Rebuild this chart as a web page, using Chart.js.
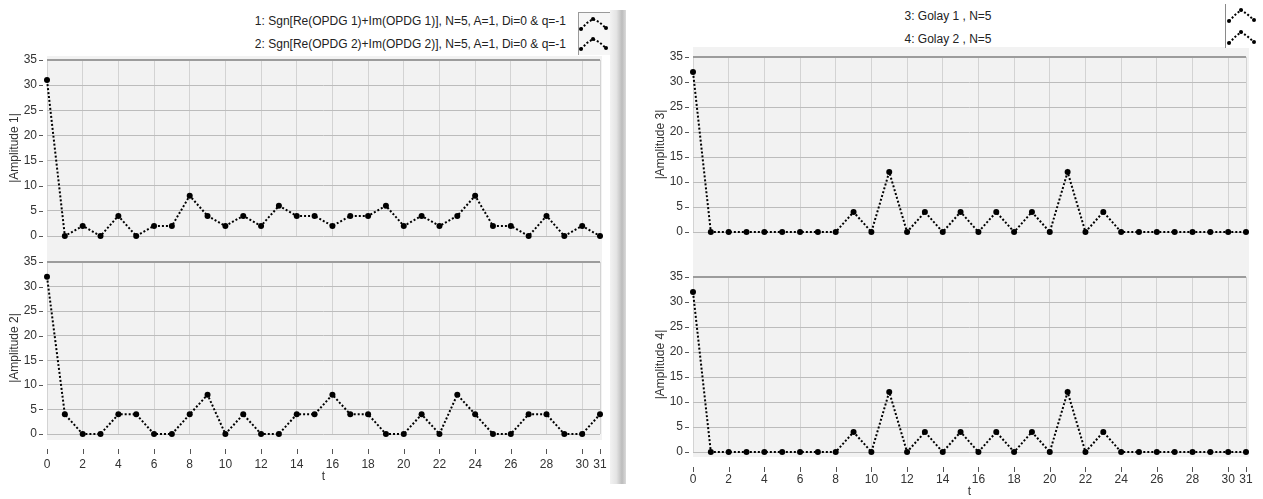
<!DOCTYPE html>
<html>
<head>
<meta charset="utf-8">
<script src="https://cdn.jsdelivr.net/npm/chart.js@4.4.1/dist/chart.umd.min.js"></script>
<style>
  body { margin: 0; width: 1263px; height: 499px; background: #fff; position: relative; overflow: hidden;
         font-family: 'Liberation Sans', Arial, sans-serif; }
  canvas, .abs { position: absolute; }
  .plotbg { background: #f2f2f2; }
  .leg { font-size: 12px; color: #222; white-space: nowrap; }
  .legbox svg { display: block; }
</style>
</head>
<body>
<!-- plot backgrounds -->
<div class="abs plotbg" style="left:47px; top:56px; width:555px; height:384px;"></div>
<div class="abs plotbg" style="left:693px; top:47px; width:556px; height:410px;"></div>

<!-- panel separator -->
<div class="abs" style="left:610px; top:10px; width:16px; height:474px;
     background: linear-gradient(to right, #f2f2f2 0%, #e4e4e4 40%, #bcbcbc 75%, #dadada 100%);"></div>

<!-- legends -->
<div class="abs leg" style="right:697px; top:10px; line-height:23px; text-align:right;">
  1: Sgn[Re(OPDG 1)+Im(OPDG 1)], N=5, A=1, Di=0 &amp; q=-1<br>
  2: Sgn[Re(OPDG 2)+Im(OPDG 2)], N=5, A=1, Di=0 &amp; q=-1
</div>
<div class="abs legbox" style="left:578px; top:12px; width:31px; height:42px; border-top:1px solid #9a9a9a; border-left:1px solid #9a9a9a; background:#f6f6f6;">
  <svg width="30" height="20" style="margin-top:2px"><polyline points="2,14 8,8 14,4 20,7 27,13" fill="none" stroke="#000" stroke-width="2" stroke-dasharray="2 2"/><circle cx="2" cy="14" r="2"/><circle cx="14" cy="4" r="2"/><circle cx="27" cy="13" r="2"/></svg>
  <svg width="30" height="20"><polyline points="2,14 8,8 14,4 20,7 27,13" fill="none" stroke="#000" stroke-width="2" stroke-dasharray="2 2"/><circle cx="2" cy="14" r="2"/><circle cx="14" cy="4" r="2"/><circle cx="27" cy="13" r="2"/></svg>
</div>

<div class="abs leg" style="left:748px; width:400px; top:5px; line-height:23px; text-align:center;">
  3: Golay 1 , N=5<br>
  4: Golay 2 , N=5
</div>
<div class="abs legbox" style="left:1225px; top:4px; width:30px; height:44px; border-left:1px solid #8a8a8a; background:#fff;">
  <svg width="30" height="22" style="margin-top:2px"><polyline points="3,15 9,9 15,4 21,8 28,14" fill="none" stroke="#000" stroke-width="2" stroke-dasharray="2 2"/><circle cx="3" cy="15" r="2"/><circle cx="15" cy="4" r="2"/><circle cx="28" cy="14" r="2"/></svg>
  <svg width="30" height="20"><polyline points="3,15 9,9 15,4 21,8 28,14" fill="none" stroke="#000" stroke-width="2" stroke-dasharray="2 2"/><circle cx="3" cy="15" r="2"/><circle cx="15" cy="4" r="2"/><circle cx="28" cy="14" r="2"/></svg>
</div>

<canvas id="amp1" width="615" height="190" style="left:0; top:50px;"></canvas>
<canvas id="amp2" width="615" height="232" style="left:0; top:252px;"></canvas>
<canvas id="amp3" width="617" height="189" style="left:646px; top:47px;"></canvas>
<canvas id="amp4" width="617" height="232" style="left:646px; top:267px;"></canvas>

<script>
const tValues = [0, 1, 2, 3, 4, 5, 6, 7, 8, 9, 10, 11, 12, 13, 14, 15, 16, 17, 18, 19, 20, 21, 22, 23, 24, 25, 26, 27, 28, 29, 30, 31];
const amplitude1 = [31, 0, 2, 0, 4, 0, 2, 2, 8, 4, 2, 4, 2, 6, 4, 4, 2, 4, 4, 6, 2, 4, 2, 4, 8, 2, 2, 0, 4, 0, 2, 0];
const amplitude2 = [32, 4, 0, 0, 4, 4, 0, 0, 4, 8, 0, 4, 0, 0, 4, 4, 8, 4, 4, 0, 0, 4, 0, 8, 4, 0, 0, 4, 4, 0, 0, 4];
const amplitude3 = [32, 0, 0, 0, 0, 0, 0, 0, 0, 4, 0, 12, 0, 4, 0, 4, 0, 4, 0, 4, 0, 12, 0, 4, 0, 0, 0, 0, 0, 0, 0, 0];
const amplitude4 = [32, 0, 0, 0, 0, 0, 0, 0, 0, 4, 0, 12, 0, 4, 0, 4, 0, 4, 0, 4, 0, 12, 0, 4, 0, 0, 0, 0, 0, 0, 0, 0];
const xTickLabels = [0, 2, 4, 6, 8, 10, 12, 14, 16, 18, 20, 22, 24, 26, 28, 30, 31];
const yTickLabels = [0, 5, 10, 15, 20, 25, 30, 35];

const labelFont = { family: "'Liberation Sans', Arial, sans-serif", size: 12 };
const textColor = '#333';

// small detached tick marks, LabVIEW style
const tickMarks = {
    id: 'tickMarks',
    afterDraw(chart, args, opts) {
        const { ctx, chartArea, scales } = chart;
        ctx.save();
        ctx.strokeStyle = '#555';
        ctx.lineWidth = 1;
        scales.y.ticks.forEach(t => {
            const y = Math.round(scales.y.getPixelForValue(t.value)) + 0.5;
            ctx.beginPath();
            ctx.moveTo(chartArea.left - 8, y);
            ctx.lineTo(chartArea.left - 4, y);
            ctx.stroke();
        });
        if (opts.showX) {
            scales.x.ticks.forEach(t => {
                const x = Math.round(scales.x.getPixelForValue(t.value)) + 0.5;
                ctx.beginPath();
                ctx.moveTo(x, chartArea.bottom + 15);
                ctx.lineTo(x, chartArea.bottom + 20);
                ctx.stroke();
            });
        }
        ctx.restore();
    }
};

function makeChart(id, values, yTitle, showX, xHeight, padRight, labelPad) {
    const ctx = document.getElementById(id).getContext('2d');
    return new Chart(ctx, {
        type: 'line',
        data: {
            datasets: [{
                data: tValues.map((t, i) => ({ x: t, y: values[i] })),
                borderColor: '#000',
                borderWidth: 2,
                borderDash: [2, 2],
                backgroundColor: '#000',
                pointRadius: 3,
                pointBorderWidth: 0,
                tension: 0,
                clip: 6
            }]
        },
        options: {
            responsive: false,
            animation: false,
            layout: { padding: { top: 10, right: padRight, bottom: 0, left: 0 } },
            plugins: {
                legend: { display: false },
                tooltip: { enabled: false },
                tickMarks: { showX: showX }
            },
            scales: {
                x: {
                    type: 'linear',
                    min: 0,
                    max: 31,
                    afterBuildTicks: s => { s.ticks = xTickLabels.map(v => ({ value: v })); },
                    afterFit: s => {
                        s.height = xHeight;
                        s.paddingLeft = 0;
                        s.paddingRight = 0;
                    },
                    grid: { color: '#d3d3d3', drawTicks: false },
                    border: { display: false },
                    ticks: { display: showX, padding: labelPad, autoSkip: false, maxRotation: 0, font: labelFont, color: textColor },
                    title: { display: showX, text: 't', padding: { top: 0, bottom: 0 }, font: labelFont, color: textColor }
                },
                y: {
                    min: 0,
                    max: 35,
                    afterBuildTicks: s => { s.ticks = yTickLabels.map(v => ({ value: v })); },
                    afterFit: s => {
                        s.width = 47;
                        s.paddingTop = 0;
                        s.paddingBottom = 0;
                    },
                    grid: {
                        color: c => c.tick && c.tick.value === 35 ? '#9c9c9c' : '#bcbcbc',
                        lineWidth: c => c.tick && c.tick.value === 35 ? 2 : 1,
                        drawTicks: false
                    },
                    border: { display: false },
                    ticks: { padding: 10, font: labelFont, color: textColor },
                    title: { display: true, text: yTitle, padding: { top: 7, bottom: 0 }, font: labelFont, color: textColor }
                }
            }
        },
        plugins: [tickMarks]
    });
}

makeChart('amp1', amplitude1, '|Amplitude 1|', false, 4, 15, 0);
makeChart('amp2', amplitude2, '|Amplitude 2|', true, 50, 15, 23);
makeChart('amp3', amplitude3, '|Amplitude 3|', false, 4, 17, 0);
makeChart('amp4', amplitude4, '|Amplitude 4|', true, 47, 17, 20);
</script>
</body>
</html>
